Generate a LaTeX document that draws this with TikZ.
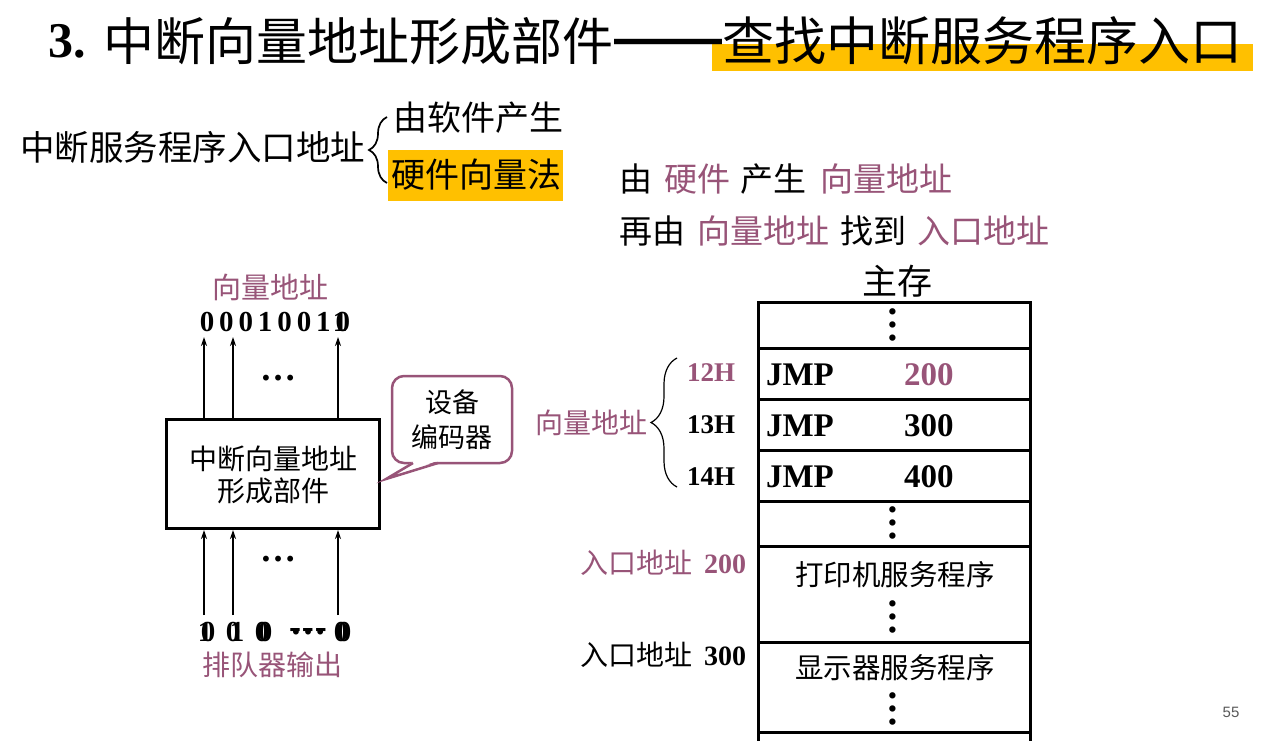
\documentclass[tikz,border=0pt]{standalone}
\usepackage{fontspec}
\setmainfont{Liberation Serif}
\newfontfamily\zh{Noto Sans CJK SC}
\newfontfamily\pagefont{Liberation Sans}
\usetikzlibrary{arrows.meta,decorations.pathreplacing}
\definecolor{plum}{RGB}{152,84,120}
\definecolor{gold}{RGB}{255,192,0}
\definecolor{pagegray}{RGB}{89,89,89}
\newcommand\fsz[1]{\fontsize{#1}{#1}\selectfont}

\begin{document}
\begin{tikzpicture}[x=1pt,y=-1pt,
  every node/.style={inner sep=0pt,outer sep=0pt},
  zhtext/.style={font=\zh\fsz{#1}},
  bnum/.style={font=\bfseries\fsz{#1}},
  uparrow/.style={-{Stealth[length=9pt,width=6pt]},line width=1.2pt},
  unitbox/.style={draw,line width=3pt,outer sep=1.5pt,minimum width=213pt,minimum height=109pt,
    align=center,font=\zh\fsz{28},text depth=0pt},
  memrow/.style={draw,line width=3pt,minimum width=272pt,minimum height=#1},
  vdots/.style={rotate=90,font=\bfseries\fsz{39}},
  hdots/.style={font=\bfseries\fsz{36}},
  bubble/.style={draw=plum,line width=2.5pt},
  curly/.style={decorate,decoration={brace,amplitude=#1},line width=1.3pt}
]
\useasboundingbox (0,0) rectangle (1268,740);
\fill[white] (0,0) rectangle (1268,740);
\clip (0,0) rectangle (1268,740);

% ---- title ----
\fill[gold] (712,44) rectangle (1253,71);
\node[bnum=50,anchor=west] (tnum) at (48,41) {3.};
\node[zhtext=51,anchor=west] (t1) at (103,41) {中断向量地址形成部件};
\node[font=\pagefont\bfseries\fsz{54},anchor=west] (tdash) at (614,48) {——};
\node[zhtext=52,anchor=west] (t2) at (722,41) {查找中断服务程序入口};

% ---- two ways of getting the entry address ----
\node[zhtext=34.5,anchor=west] (entry) at (20,147) {中断服务程序入口地址};
\draw[curly=18pt,line width=1.7pt] (387,183) -- (387,117);
\node[zhtext=34,anchor=west] (soft) at (393,118) {由软件产生};
\fill[gold] (388,150) rectangle (563,201);
\node[zhtext=34,anchor=west] (hard) at (391,175) {硬件向量法};

\node[zhtext=33,anchor=west] (line1) at (619,179)
  {由\hspace{12pt}\textcolor{plum}{硬件}\hspace{10pt}产生\hspace{14pt}\textcolor{plum}{向量地址}};
\node[zhtext=33,anchor=west] (line2) at (619,231)
  {再由\hspace{12pt}\textcolor{plum}{向量地址}\hspace{11pt}找到\hspace{11pt}\textcolor{plum}{入口地址}};

% ---- vector address forming unit ----
\node[zhtext=29,text=plum] (vtitle) at (270,287) {向量地址};
\foreach \d [count=\i from 0] in {0,0,0,1,0,0,1,0}
  \node[bnum=29] (v\i) at (207+19.4*\i,322) {\d};
\node[bnum=29] (v7b) at (340,322) {1};

\node[unitbox] (unit) at (273,474) {中断向量地址\\[4pt]形成部件};

\foreach \dx in {39,68,173}{
  \draw[uparrow] ([xshift=\dx pt]unit.north west) -- ++(0,-81);
  \draw[uparrow] ([xshift=\dx pt,yshift=-85pt]unit.south west) -- ([xshift=\dx pt]unit.south west);
}
\node[hdots] (dtop) at (278,378) {…};
\node[hdots] (dbot) at (278,559) {…};

% queue outputs
\node[bnum=29] (q1a) at (205,632) {1};
\node[bnum=29] (q1b) at (208,632) {0};
\node[bnum=29] (q2a) at (233,632) {0};
\node[bnum=29] (q2b) at (237,632) {1};
\node[bnum=29] (q3a) at (262,632) {0};
\node[bnum=29] (q3b) at (265,632) {0};
\node[hdots] (q4a) at (308,632) {…};
\node[bnum=36] (q4b) at (308,633) {{-}\hspace{1pt}{-}\hspace{1pt}{-}};
\node[bnum=29] (q5a) at (341,632) {0};
\node[bnum=29] (q5b) at (344,632) {0};
\node[zhtext=28,text=plum] (qlabel) at (272,665) {排队器输出};

% ---- callout: device encoder ----
\draw[bubble,fill=white,rounded corners=12pt] (392,376) rectangle (512,463);
\fill[white] (414,461) -- (386,479) -- (437,461) -- cycle;
\draw[bubble,line join=miter] (413,463) -- (386,479) -- (438,463);
\node[zhtext=27,align=center] (enc) at (452,420) {设备\\[8pt]编码器};

% ---- main memory ----
\node[zhtext=35] (memlabel) at (897,281) {主存};
\node[memrow=46pt]  (r1) at (894.5,325)   {};
\node[memrow=51pt]  (r2) at (894.5,373.5) {};
\node[memrow=51pt]  (r3) at (894.5,424.5) {};
\node[memrow=51pt]  (r4) at (894.5,475.5) {};
\node[memrow=45pt]  (r5) at (894.5,523.5) {};
\node[memrow=96pt]  (r6) at (894.5,594)   {};
\node[memrow=90pt]  (r7) at (894.5,687)   {};
\node[memrow=68pt]  (r8) at (894.5,766)   {};

\node[vdots] (m1) at (893,325) {…};
\node[vdots] (m5) at (893,523) {…};
\node[vdots] (m6) at (893,617) {…};
\node[vdots] (m7) at (893,709) {…};

\node[bnum=33,anchor=west] (j1) at (766,375) {JMP};
\node[bnum=33,anchor=west] (j2) at (766,426) {JMP};
\node[bnum=33,anchor=west] (j3) at (766,477) {JMP};
\node[bnum=33,anchor=west,text=plum] (n1) at (904,375) {200};
\node[bnum=33,anchor=west] (n2) at (904,426) {300};
\node[bnum=33,anchor=west] (n3) at (904,477) {400};

\node[zhtext=28.5] (prn) at (895,575) {打印机服务程序};
\node[zhtext=28.5] (dsp) at (895,668) {显示器服务程序};

% addresses on the left of memory
\node[bnum=27,text=plum] (a12) at (711,373) {12H};
\node[bnum=27] (a13) at (711,425) {13H};
\node[bnum=27] (a14) at (711,477) {14H};
\draw[curly=26pt,line width=1.2pt] (677,487) -- (677,358);
\node[zhtext=28,text=plum] (vlabel) at (591,423) {向量地址};

\node[anchor=east,text=plum] (e200) at (746,563)
  {{\zh\fsz{28}入口地址}\hspace{12pt}{\bfseries\fsz{28}200}};
\node[anchor=east] (e300) at (746,655)
  {{\zh\fsz{28}入口地址}\hspace{12pt}{\bfseries\fsz{28}300}};

% page number
\node[font=\pagefont\fsz{15},text=pagegray] (page) at (1231,712) {55};
\end{tikzpicture}
\end{document}
